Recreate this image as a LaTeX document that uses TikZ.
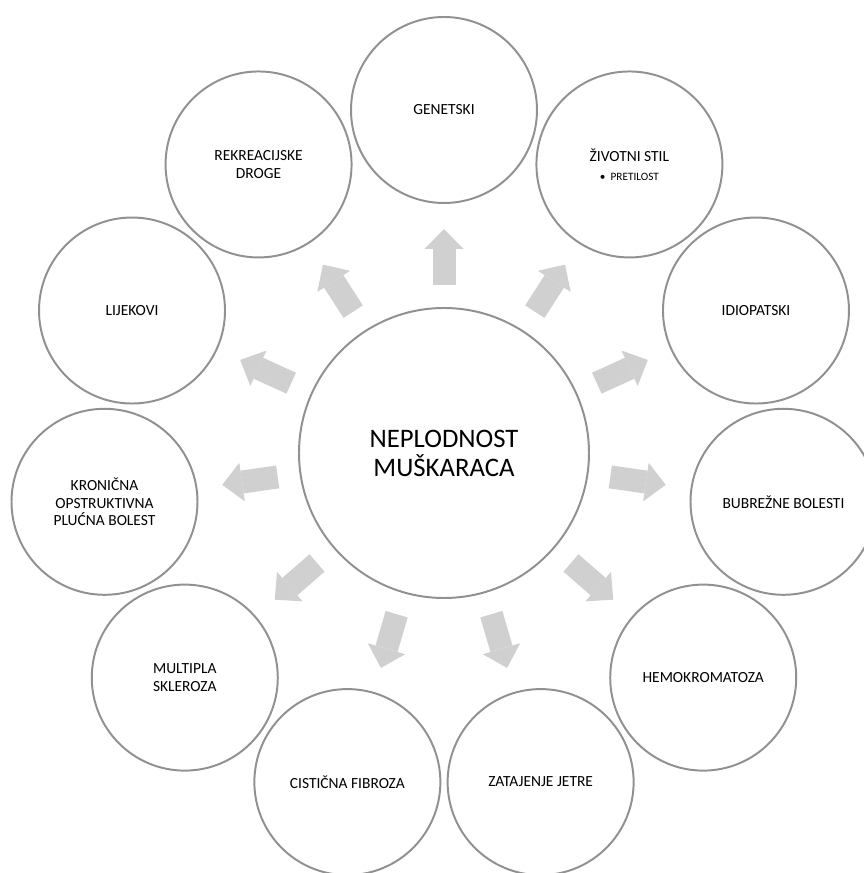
\documentclass[tikz,border=0pt]{standalone}
\usepackage{fontspec}
\setmainfont{Carlito}
\usetikzlibrary{arrows.meta,calc}
\definecolor{RingClr}{RGB}{145,145,145}
\definecolor{SpokeClr}{RGB}{208,208,208}

\begin{document}
\begin{tikzpicture}[
  core/.style={circle,draw=RingClr,line width=1.4pt,fill=white,minimum size=7.25cm,
    align=center,font=\fontsize{19}{20.6}\selectfont},
  cause/.style={circle,draw=RingClr,line width=1.4pt,fill=white,minimum size=4.65cm,
    align=center,font=\fontsize{11}{12.4}\selectfont},
  spoke/.style={draw=SpokeClr,line width=0.575cm,
    -{Triangle[length=0.5cm,width=0.975cm,line width=0pt]}}]
\clip (-11.1,-10.5) rectangle (10.5,11.325);

\node[core] (N) at (0,0) {NEPLODNOST\\MUŠKARACA};

% causes, clockwise from the top
\node[cause] (Gen) at (90:8.575) {GENETSKI};
\node[cause] (Ziv) at (90-360/11:8.575) {ŽIVOTNI STIL\\[1pt]{\fontsize{8}{9}\selectfont\textbullet\ \ PRETILOST}};
\node[cause] (Idi) at (90-2*360/11:8.575) {IDIOPATSKI};
\node[cause] (Bub) at (90-3*360/11:8.575) {BUBREŽNE BOLESTI};
\node[cause] (Hem) at (90-4*360/11:8.575) {HEMOKROMATOZA};
\node[cause] (Jet) at (90-5*360/11:8.575) {ZATAJENJE JETRE};
\node[cause] (Cis) at (90-6*360/11:8.575) {CISTIČNA FIBROZA};
\node[cause] (Mul) at (90-7*360/11:8.575) {MULTIPLA\\SKLEROZA};
\node[cause] (Kop) at (90-8*360/11:8.575) {KRONIČNA\\OPSTRUKTIVNA\\PLUĆNA BOLEST};
\node[cause] (Lij) at (90-9*360/11:8.575) {LIJEKOVI};
\node[cause] (Rek) at (90-10*360/11:8.575) {REKREACIJSKE\\DROGE};

% block arrows
\draw[spoke] ($(N)!4.2cm!(Gen)$) -- ($(N)!5.6cm!(Gen)$);
\draw[spoke] ($(N)!4.2cm!(Ziv)$) -- ($(N)!5.6cm!(Ziv)$);
\draw[spoke] ($(N)!4.2cm!(Idi)$) -- ($(N)!5.6cm!(Idi)$);
\draw[spoke] ($(N)!4.2cm!(Bub)$) -- ($(N)!5.6cm!(Bub)$);
\draw[spoke] ($(N)!4.2cm!(Hem)$) -- ($(N)!5.6cm!(Hem)$);
\draw[spoke] ($(N)!4.2cm!(Jet)$) -- ($(N)!5.6cm!(Jet)$);
\draw[spoke] ($(N)!4.2cm!(Cis)$) -- ($(N)!5.6cm!(Cis)$);
\draw[spoke] ($(N)!4.2cm!(Mul)$) -- ($(N)!5.6cm!(Mul)$);
\draw[spoke] ($(N)!4.2cm!(Kop)$) -- ($(N)!5.6cm!(Kop)$);
\draw[spoke] ($(N)!4.2cm!(Lij)$) -- ($(N)!5.6cm!(Lij)$);
\draw[spoke] ($(N)!4.2cm!(Rek)$) -- ($(N)!5.6cm!(Rek)$);

\end{tikzpicture}
\end{document}
